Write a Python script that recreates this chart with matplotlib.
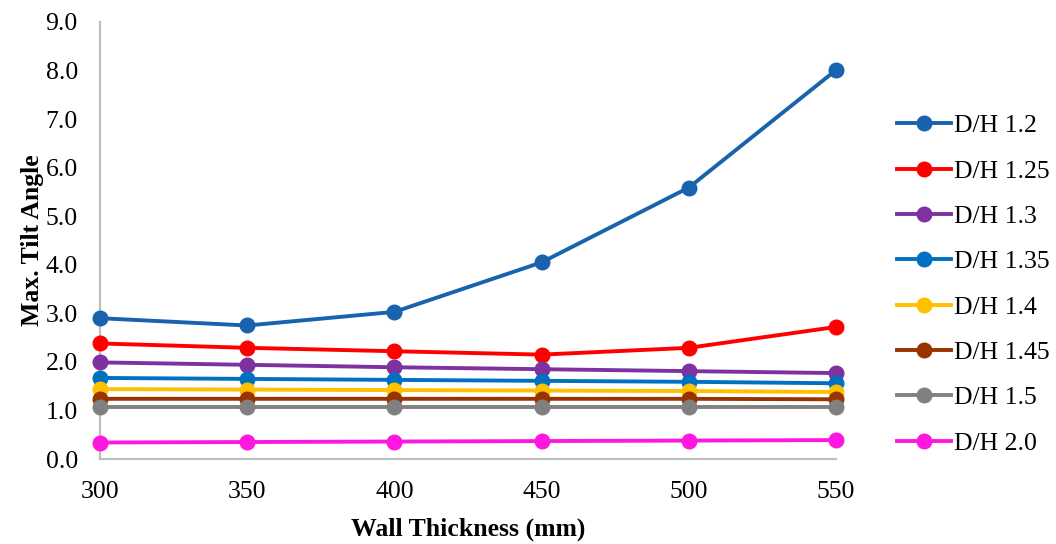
import matplotlib.pyplot as plt

# Max. tilt angle vs wall thickness for each D/H ratio
wall_thickness = [300, 350, 400, 450, 500, 550]

dh_labels = ['D/H 1.2', 'D/H 1.25', 'D/H 1.3', 'D/H 1.35',
             'D/H 1.4', 'D/H 1.45', 'D/H 1.5', 'D/H 2.0']

tilt_dh_120 = [2.90, 2.75, 3.03, 4.05, 5.59, 8.01]
tilt_dh_125 = [2.38, 2.29, 2.22, 2.15, 2.29, 2.72]
tilt_dh_130 = [1.99, 1.94, 1.89, 1.85, 1.81, 1.77]
tilt_dh_135 = [1.67, 1.65, 1.63, 1.61, 1.59, 1.56]
tilt_dh_140 = [1.44, 1.43, 1.42, 1.41, 1.40, 1.38]
tilt_dh_145 = [1.24, 1.24, 1.24, 1.24, 1.24, 1.23]
tilt_dh_150 = [1.07, 1.07, 1.07, 1.07, 1.07, 1.07]
tilt_dh_200 = [0.34, 0.35, 0.36, 0.37, 0.38, 0.39]

series = [tilt_dh_120, tilt_dh_125, tilt_dh_130, tilt_dh_135,
          tilt_dh_140, tilt_dh_145, tilt_dh_150, tilt_dh_200]
colors = ['#1862AE', '#FF0000', '#7F31A0', '#0070C0',
          '#FFC000', '#993300', '#808080', '#FF17E0']

plt.rcParams['font.family'] = ['Liberation Serif', 'DejaVu Serif']
fs = 18.5

fig = plt.figure(figsize=(10.56, 5.44), dpi=100)
ax = fig.add_axes([0.0947, 0.1562, 0.6970, 0.8034])

for vals, lab, col in zip(series, dh_labels, colors):
    ax.plot(wall_thickness, vals, color=col, lw=2.8, marker='o',
            markersize=10.5, label=lab, clip_on=False, zorder=3)

ax.set_xlim(300, 550)
ax.set_ylim(0, 9)
ax.set_xticks(wall_thickness)
ax.set_yticks(range(0, 10))
ax.set_yticklabels([f'{v:.1f}' for v in range(0, 10)])
ax.tick_params(length=0, labelsize=fs)
ax.tick_params(axis='y', pad=16)
ax.tick_params(axis='x', pad=16)

for side in ['top', 'right']:
    ax.spines[side].set_visible(False)
for side in ['left', 'bottom']:
    ax.spines[side].set_color('#BFBFBF')
    ax.spines[side].set_linewidth(1.6)

ax.set_xlabel('Wall Thickness (mm)', fontweight='bold', fontsize=fs, labelpad=10)
ax.set_ylabel('Max. Tilt Angle', fontweight='bold', fontsize=fs, labelpad=1)

fig.legend(loc='center left', bbox_to_anchor=(0.849, 0.477), frameon=False,
           handlelength=2.1, handletextpad=0.15, labelspacing=0.87,
           fontsize=fs, borderaxespad=0, borderpad=0)

fig.savefig('out.png', dpi=100)
